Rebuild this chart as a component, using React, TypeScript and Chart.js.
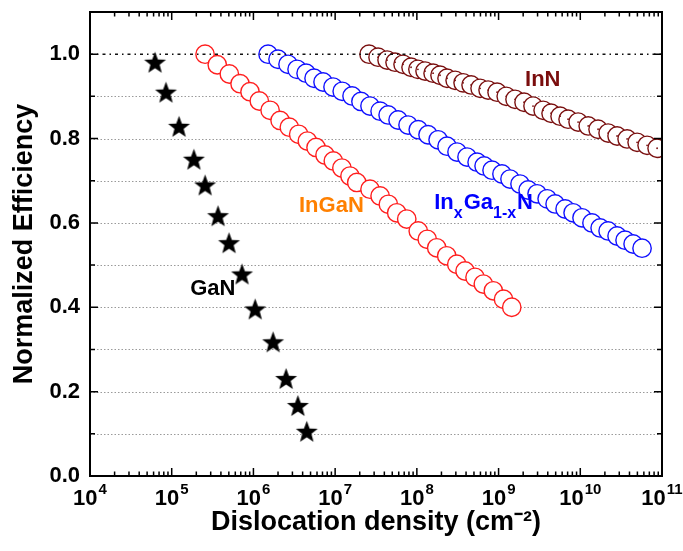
import React, { useEffect, useRef } from 'react';
import { Chart, registerables } from 'chart.js';

Chart.register(...registerables);

// ---- data ----
const ganX = [6.25e4, 8.5e4, 1.23e5, 1.87e5, 2.56e5, 3.69e5, 5.03e5, 7.25e5, 1.05e6, 1.74e6, 2.51e6, 3.5e6, 4.5e6];
const ganY = [0.981, 0.910, 0.829, 0.751, 0.690, 0.617, 0.553, 0.479, 0.396, 0.318, 0.231, 0.167, 0.106];

const inganX = [2.56e5, 3.61e5, 5.07e5, 6.86e5, 9.08e5, 1.18e6, 1.6e6, 2.12e6, 2.75e6, 3.58e6, 4.57e6, 5.84e6, 7.52e6, 9.5e6, 1.21e7, 1.52e7, 1.84e7, 2.67e7, 3.55e7, 4.48e7, 5.67e7, 7.52e7, 1.04e8, 1.34e8, 1.75e8, 2.32e8, 3.08e8, 3.89e8, 5.15e8, 6.51e8, 8.63e8, 1.15e9, 1.45e9];
const inganY = [1.0, 0.975, 0.953, 0.930, 0.911, 0.889, 0.867, 0.843, 0.827, 0.810, 0.794, 0.779, 0.761, 0.747, 0.730, 0.711, 0.696, 0.680, 0.664, 0.644, 0.624, 0.609, 0.581, 0.561, 0.541, 0.522, 0.502, 0.486, 0.471, 0.455, 0.439, 0.419, 0.400];

const inxgaX = [1.51e6, 2.0e6, 2.65e6, 3.42e6, 4.41e6, 5.52e6, 7.11e6, 9.42e6, 1.22e7, 1.61e7, 2.07e7, 2.67e7, 3.55e7, 4.45e7, 5.89e7, 7.8e7, 1.04e8, 1.37e8, 1.82e8, 2.34e8, 3.1e8, 4.11e8, 5.46e8, 6.65e8, 8.32e8, 1.1e9, 1.38e9, 1.83e9, 2.3e9, 2.96e9, 3.93e9, 4.92e9, 6.52e9, 8.17e9, 1.05e10, 1.39e10, 1.75e10, 2.19e10, 2.82e10, 3.53e10, 4.43e10, 5.7e10];
const inxgaY = [1.0, 0.988, 0.976, 0.964, 0.955, 0.943, 0.934, 0.922, 0.912, 0.901, 0.888, 0.877, 0.865, 0.856, 0.844, 0.832, 0.821, 0.809, 0.797, 0.782, 0.768, 0.756, 0.744, 0.735, 0.725, 0.716, 0.704, 0.692, 0.678, 0.669, 0.657, 0.645, 0.633, 0.624, 0.612, 0.600, 0.588, 0.581, 0.569, 0.559, 0.550, 0.540];

const innX = [2.6e7, 3.35e7, 4.32e7, 5.41e7, 6.78e7, 8.49e7, 1.03e8, 1.26e8, 1.58e8, 1.92e8, 2.34e8, 2.94e8, 3.68e8, 4.61e8, 5.94e8, 7.44e8, 9.59e8, 1.24e9, 1.59e9, 2.05e9, 2.64e9, 3.51e9, 4.39e9, 5.66e9, 7.09e9, 9.4e9, 1.25e10, 1.65e10, 2.19e10, 2.82e10, 3.74e10, 4.96e10, 6.57e10, 8.71e10];
const innY = [1.0, 0.993, 0.986, 0.981, 0.976, 0.969, 0.964, 0.960, 0.955, 0.950, 0.943, 0.938, 0.932, 0.927, 0.919, 0.915, 0.910, 0.900, 0.893, 0.886, 0.877, 0.867, 0.860, 0.853, 0.846, 0.839, 0.830, 0.822, 0.813, 0.806, 0.799, 0.791, 0.784, 0.777];

const xTickExponents = [4, 5, 6, 7, 8, 9, 10, 11];
const yTickValues = [0, 0.2, 0.4, 0.6, 0.8, 1.0];
const yGridValues = [0.1, 0.2, 0.3, 0.4, 0.5, 0.6, 0.7, 0.8, 0.9];
const referenceLine = 1.0;

const xTitle = 'Dislocation density (cm⁻²)';
const yTitle = 'Normalized Efficiency';

const FONT = '"Liberation Sans", Arial, Helvetica, sans-serif';

const seriesLabels = [
  { parts: [['InN', false]], x: 2.11e9, y: 0.925, color: '#7a0d0d' },
  { parts: [['InGaN', false]], x: 3.61e6, y: 0.627, color: '#ff8000' },
  { parts: [['In', false], ['x', true], ['Ga', false], ['1-x', true], ['N', false]], x: 1.63e8, y: 0.632, color: '#0000ff' },
  { parts: [['GaN', false]], x: 1.68e5, y: 0.428, color: '#000000' },
];

function zip(xs: number[], ys: number[]) {
  return xs.map((x, i) => ({ x, y: ys[i] }));
}

function makeStar(r: number): HTMLCanvasElement {
  const size = Math.ceil(r * 2 + 2);
  const c = document.createElement('canvas');
  c.width = size;
  c.height = size;
  const g = c.getContext('2d')!;
  g.translate(size / 2, size / 2 + r * 0.095);
  g.beginPath();
  for (let i = 0; i < 10; i++) {
    const a = -Math.PI / 2 + (i * Math.PI) / 5;
    const rr = i % 2 === 0 ? r : r * 0.42;
    g.lineTo(rr * Math.cos(a), rr * Math.sin(a));
  }
  g.closePath();
  g.fillStyle = '#000';
  g.fill();
  return c;
}

const decorPlugin = {
  id: 'decor',
  beforeDatasetsDraw(chart: any) {
    const { ctx, chartArea: a, scales } = chart;
    ctx.save();
    ctx.strokeStyle = '#9a9a9a';
    ctx.lineWidth = 1;
    ctx.setLineDash([1.5, 2]);
    for (const v of yGridValues) {
      const y = Math.round(scales.y.getPixelForValue(v)) + 0.5;
      ctx.beginPath();
      ctx.moveTo(a.left, y);
      ctx.lineTo(a.right, y);
      ctx.stroke();
    }
    ctx.restore();
  },
  afterDatasetsDraw(chart: any) {
    const { ctx, chartArea: a, scales } = chart;
    const xs = scales.x;
    const ys = scales.y;
    ctx.save();
    // dash-dot reference line
    ctx.strokeStyle = '#111';
    ctx.lineWidth = 1.5;
    ctx.setLineDash([3, 4, 1.5, 4]);
    const yr = ys.getPixelForValue(referenceLine);
    ctx.beginPath();
    ctx.moveTo(a.left, yr);
    ctx.lineTo(a.right, yr);
    ctx.stroke();
    ctx.setLineDash([]);

    // ticks
    ctx.strokeStyle = '#000';
    ctx.lineWidth = 1.5;
    for (let e = xTickExponents[0]; e < xTickExponents[xTickExponents.length - 1] + 1; e++) {
      for (let m = 1; m <= 9; m++) {
        const v = m * Math.pow(10, e);
        if (v < xs.min * 0.999 || v > xs.max * 1.001) continue;
        const px = xs.getPixelForValue(v);
        const len = m === 1 ? 8 : 4.5;
        ctx.beginPath();
        ctx.moveTo(px, a.bottom);
        ctx.lineTo(px, a.bottom - len);
        ctx.moveTo(px, a.top);
        ctx.lineTo(px, a.top + len);
        ctx.stroke();
      }
    }
    for (let i = 1; i <= 10; i++) {
      const v = i / 10;
      const py = ys.getPixelForValue(v);
      const len = i % 2 === 0 ? 8 : 5;
      ctx.beginPath();
      ctx.moveTo(a.left, py);
      ctx.lineTo(a.left + len, py);
      ctx.moveTo(a.right, py);
      ctx.lineTo(a.right - len, py);
      ctx.stroke();
    }

    // frame
    ctx.lineWidth = 2;
    ctx.strokeRect(a.left, a.top, a.right - a.left, a.bottom - a.top);

    // x tick labels with superscript exponents
    ctx.fillStyle = '#000';
    ctx.textBaseline = 'alphabetic';
    ctx.textAlign = 'left';
    const baseFont = `bold 22px ${FONT}`;
    const supFont = `bold 15px ${FONT}`;
    for (const t of xs.ticks) {
      const e = Math.round(Math.log10(t.value));
      const px = xs.getPixelForValue(t.value);
      ctx.font = baseFont;
      const w1 = ctx.measureText('10').width;
      ctx.font = supFont;
      const w2 = ctx.measureText(String(e)).width;
      const left = px - (w1 + w2 + 1) / 2;
      const base = a.bottom + 29;
      ctx.font = baseFont;
      ctx.fillText('10', left, base);
      ctx.font = supFont;
      ctx.fillText(String(e), left + w1 + 1, base - 11);
    }

    // series labels
    for (const lab of seriesLabels) {
      let x = xs.getPixelForValue(lab.x);
      const y = ys.getPixelForValue(lab.y);
      ctx.fillStyle = lab.color;
      for (const [txt, sub] of lab.parts as [string, boolean][]) {
        ctx.font = sub ? `bold 16px ${FONT}` : `bold 22px ${FONT}`;
        ctx.fillText(txt, x, sub ? y + 9 : y);
        x += ctx.measureText(txt).width + (sub ? 1 : 0);
      }
    }
    ctx.restore();
  },
};

export default function App() {
  const ref = useRef<HTMLCanvasElement | null>(null);
  useEffect(() => {
    if (!ref.current) return;
    const star = makeStar(11.5);
    const circle = (color: string) => ({
      pointStyle: 'circle',
      pointRadius: 9.2,
      pointBorderColor: color,
      pointBackgroundColor: '#ffffff',
      pointBorderWidth: 1.4,
      showLine: false,
    });
    const chart = new Chart(ref.current, {
      type: 'scatter',
      data: {
        datasets: [
          {
            label: 'InN centre',
            data: zip(innX, innY),
            pointStyle: 'circle',
            pointRadius: 0.9,
            pointBorderWidth: 0,
            pointBackgroundColor: '#7a1010',
            showLine: false,
          } as any,
          { label: 'GaN', data: zip(ganX, ganY), pointStyle: star as any, pointRadius: 11, showLine: false },
          { label: 'InGaN', data: zip(inganX, inganY), ...circle('#ff1e1e') } as any,
          { label: 'InxGa1-xN', data: zip(inxgaX, inxgaY), ...circle('#1010ff') } as any,
          { label: 'InN', data: zip(innX, innY), ...circle('#7a1010') } as any,
        ],
      },
      options: {
        animation: false,
        responsive: false,
        devicePixelRatio: 1,
        layout: { padding: { top: 11, right: 21, left: 0, bottom: 0 } },
        plugins: { legend: { display: false }, tooltip: { enabled: false } },
        scales: {
          x: {
            type: 'logarithmic',
            min: 1e4,
            max: 1e11,
            grid: { display: false, drawTicks: false },
            border: { display: false },
            ticks: { display: false },
            afterBuildTicks: (s: any) => {
              s.ticks = xTickExponents.map((e) => ({ value: Math.pow(10, e) }));
            },
            afterFit: (s: any) => {
              s.height = 75;
              s.paddingLeft = 0;
              s.paddingRight = 0;
            },
            title: {
              display: true,
              text: xTitle,
              color: '#000',
              font: { family: FONT, size: 27, weight: 'bold' },
              padding: { top: 0, bottom: 12 },
            },
          },
          y: {
            min: 0,
            max: 1.1,
            grid: { display: false, drawTicks: false },
            border: { display: false },
            afterBuildTicks: (s: any) => {
              s.ticks = yTickValues.map((v) => ({ value: v }));
            },
            afterFit: (s: any) => {
              s.width = 90;
              s.paddingTop = 0;
              s.paddingBottom = 0;
            },
            ticks: {
              color: '#000',
              padding: 10,
              font: { family: FONT, size: 22, weight: 'bold' },
              callback: (v: any) => Number(v).toFixed(1),
            },
            title: {
              display: true,
              text: yTitle,
              color: '#000',
              font: { family: FONT, size: 27, weight: 'bold' },
              padding: { top: 8, bottom: 0 },
            },
          },
        },
      } as any,
      plugins: [decorPlugin],
    });
    return () => chart.destroy();
  }, []);
  return (
    <div style={{ position: 'fixed', left: 0, top: 0, width: 683, height: 551, background: '#fff' }}>
      <canvas ref={ref} width={683} height={551} />
    </div>
  );
}
